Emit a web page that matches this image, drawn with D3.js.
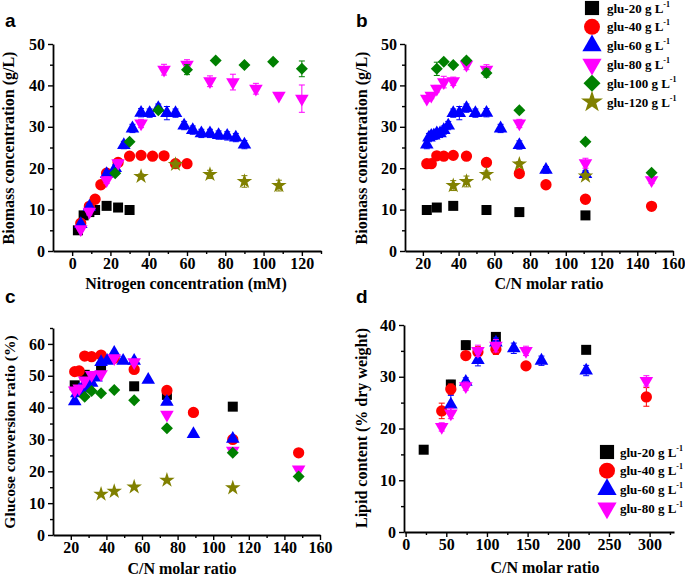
<!DOCTYPE html>
<html><head><meta charset="utf-8">
<script src="https://cdn.jsdelivr.net/npm/d3@7"></script>
<style>body{margin:0;background:#fff}svg{display:block}</style></head>
<body><svg id="c" width="685" height="577"></svg>
<script>
// ---------- series meta ----------
const seriesLabels = ["glu-20 g L","glu-40 g L","glu-60 g L","glu-80 g L","glu-100 g L","glu-120 g L"];
const seriesColors = ["#000000","#ff0000","#0000ff","#ff00ff","#008000","#808000"];
const seriesShapes = ["square","circle","triangle","triangleDown","diamond","star"];

// ---------- panel a : biomass vs nitrogen (mM) ----------
const aX20 = [3,6,9,12,18,24,30];
const aY20 = [5.0,8.6,9.4,9.9,10.9,10.5,9.9];
const aE20 = [0,0,0,0,0,0,0];
const aX40 = [4.5,9,12,15,18,24,30,36,42,48,54,60];
const aY40 = [6.7,10.8,12.5,16.0,18.8,21.4,22.9,23.1,22.9,23.0,21.1,21.1];
const aE40 = [0.5,0.5,0.4,0.4,0.5,0.5,0.4,0.4,0.4,0.4,0.5,0.4];
const aX60 = [4.5,9,18,22.5,27,31.5,36,40.5,45,49.5,54,58.5,63,67.5,72,76.5,81,85.5,90];
const aY60 = [6.5,10.7,18.6,20.0,25.6,29.6,33.4,33.3,34.5,33.3,33.3,30.3,29.2,28.4,28.4,28.0,27.8,27.4,25.7];
const aE60 = [0.5,0.8,0.8,0.8,0.9,1.0,1.0,1.0,1.0,1.6,1.0,1.0,1.0,1.0,1.0,1.0,1.0,1.0,1.0];
const aX80 = [4.5,9,18,24,36,48,60,72,84,96,108,120];
const aY80 = [5.3,9.5,17.1,21.2,30.8,43.8,45.0,41.0,40.8,39.2,37.5,36.8];
const aE80 = [0.5,0.8,0.8,0.8,1.0,1.3,1.2,1.3,1.9,1.3,0.5,3.3];
const aX100 = [22.5,30,45,60,75,90,105,120];
const aY100 = [18.8,26.4,34.0,43.8,46.0,44.9,45.7,44.0];
const aE100 = [0.5,0.5,0.5,1.2,0.5,0.5,0.5,1.9];
const aX120 = [36,54,72,90,108];
const aY120 = [18.0,20.9,18.5,16.8,15.8];
const aE120 = [0.6,0.8,1.0,1.4,1.3];

// ---------- panel b : biomass vs C/N ----------
const bX20 = [22.2,27.8,37,55.6,74,111];
const bY20 = [9.9,10.5,10.9,9.9,9.4,8.6];
const bE20 = [0,0,0,0,0,0];
const bX40 = [22.2,24.7,27.8,31.7,37,44.4,55.6,74,88.9,111,148];
const bY40 = [21.1,21.1,23.0,22.9,23.1,22.9,21.4,18.7,16.0,12.5,10.8];
const bE40 = [0.4,0.4,0.4,0.4,0.4,0.4,0.5,0.5,0.4,0.4,0.5];
const bX60 = [22.2,23.4,24.7,26.1,27.8,29.6,31.7,34.2,37,40.4,44.4,49.4,55.6,63.5,74,88.9,111];
const bY60 = [25.7,27.4,27.8,27.9,28.4,28.4,29.2,30.3,33.3,33.3,34.5,33.3,33.4,29.6,25.6,19.6,18.6];
const bE60 = [1.0,1.0,1.0,1.0,1.0,1.0,1.0,1.0,1.0,1.6,1.0,1.0,1.0,1.0,1.0,0.8,0.8];
const bX80 = [22.2,24.7,27.8,31.7,37,44.4,55.6,74,111,148];
const bY80 = [36.8,37.5,39.2,40.8,41.0,45.0,43.8,30.8,21.2,17.1];
const bE80 = [0.7,0.7,0.8,1.4,1.0,1.2,1.2,1.0,1.2,0.8];
const bX100 = [27.8,31.7,37,44.4,55.6,74,111,148];
const bY100 = [44.0,45.7,44.9,46.0,43.0,34.0,26.4,18.9];
const bE100 = [1.6,0.5,0.5,0.6,1.0,0.5,0.5,0.5];
const bX120 = [37,44.4,55.6,74,111];
const bY120 = [15.8,16.8,18.5,21.0,18.1];
const bE120 = [1.2,1.3,0.8,0.6,0.6];

// ---------- panel c : glucose conversion ratio vs C/N ----------
const cX20 = [22.2,27.8,37,55.6,74,111];
const cY20 = [47.0,50.3,52.6,46.7,44.0,40.3];
const cX40 = [22.2,24.7,27.8,31.7,37,44.4,55.6,74,88.9,111,148];
const cY40 = [51.3,51.5,56.2,56.0,56.5,55.5,52.0,45.4,38.5,30.0,25.8];
const cX60 = [22.2,23.4,24.7,26.1,27.8,29.6,31.7,34.2,37,40.4,44.4,49.4,55.6,63.5,74,88.9,111];
const cY60 = [42.0,44.5,45.5,46.0,46.5,47.0,47.8,49.4,54.3,54.7,57.2,54.7,54.7,48.7,41.8,31.7,30.2];
const cX80 = [22.2,24.7,27.8,31.7,37,44.4,55.6,74,111,148];
const cY80 = [45.4,46.0,48.5,50.3,50.5,55.5,54.3,37.8,26.5,20.6];
const cX100 = [27.8,31.7,37,44.4,55.6,74,111,148];
const cY100 = [43.4,45.2,44.5,45.5,42.3,33.5,25.8,18.4];
const cX120 = [37,44.4,55.6,74,111];
const cY120 = [12.8,13.7,15.1,17.2,14.8];

// ---------- panel d : lipid content vs C/N ----------
const dX20 = [22.2,55.6,74,111,222];
const dY20 = [15.9,28.5,36.1,37.7,35.2];
const dE20 = [0.3,0.8,0.8,0.5,0.4];
const dX40 = [44.4,55.6,74,88.9,111,148,296];
const dY40 = [23.4,27.6,34.1,34.8,35.3,32.1,26.1];
const dE40 = [1.5,1.0,0.8,1.0,1.0,0.5,1.8];
const dX60 = [55.6,74,88.9,111,133,167,222];
const dY60 = [24.6,29.0,33.2,36.6,35.5,33.1,31.2];
const dE60 = [1.8,0.8,1.1,0.9,1.0,0.9,1.0];
const dX80 = [44.4,55.6,74,88.9,111,148,296];
const dY80 = [20.3,22.9,28.2,35.0,36.0,35.0,29.2];
const dE80 = [0.8,1.0,0.8,1.1,1.2,0.9,1.0];

// ---------- tick labels ----------
const aXTicks = [0,20,40,60,80,100,120];
const cnTicks = [20,40,60,80,100,120,140,160];
const biomassTicks = [0,10,20,30,40,50];
const convTicks = [0,10,20,30,40,50,60];
const dXTicks = [0,50,100,150,200,250,300];
const lipidTicks = [0,10,20,30,40];

// ---------- drawing ----------
const svg = d3.select("#c");
const SERIF = "'Liberation Serif','Times New Roman',serif";
const SANS = "'Liberation Sans',Arial,sans-serif";
const markerSize = {square:100, circle:100, triangle:80, triangleDown:80, diamond:72, star:75};

function markerPath(shape, scale) {
  const s = markerSize[shape] * (scale || 1);
  switch (shape) {
    case "square": case "diamond": return d3.symbol(d3.symbolSquare, s)();
    case "circle": return d3.symbol(d3.symbolCircle, s)();
    case "triangle": case "triangleDown": return d3.symbol(d3.symbolTriangle, s)();
    case "star": return d3.symbol(d3.symbolStar, s)();
  }
}
function markerRot(shape) {
  return shape === "triangleDown" ? 180 : shape === "diamond" ? 45 : 0;
}
function mid(a){ const r=[]; for(let i=0;i<a.length-1;i++) r.push((a[i]+a[i+1])/2); return r; }

function drawPanel(p) {
  const g = svg.append("g");
  const x = d3.scaleLinear().domain(p.xDomain).range(p.xRange);
  const y = d3.scaleLinear().domain(p.yDomain).range(p.yRange);
  const xMinor = mid(p.xTicks).concat(p.xExtraMinor || []);
  const yMinor = mid(p.yTicks).concat(p.yExtraMinor || []);

  g.append("g").attr("transform", `translate(0,${p.yRange[0]})`)
    .call(d3.axisBottom(x).tickValues(xMinor).tickSize(3).tickFormat("").tickSizeOuter(0))
    .call(s => s.select(".domain").remove());
  g.append("g").attr("transform", `translate(${p.xRange[0]},0)`)
    .call(d3.axisLeft(y).tickValues(yMinor).tickSize(3).tickFormat("").tickSizeOuter(0))
    .call(s => s.select(".domain").remove());
  const xa = g.append("g").attr("transform", `translate(0,${p.yRange[0]})`)
    .call(d3.axisBottom(x).tickValues(p.xTicks).tickSize(5).tickPadding(2).tickSizeOuter(0));
  const ya = g.append("g").attr("transform", `translate(${p.xRange[0]},0)`)
    .call(d3.axisLeft(y).tickValues(p.yTicks).tickSize(5).tickPadding(3).tickSizeOuter(0));
  [xa, ya].forEach(a => {
    a.selectAll("text").attr("font-family", SERIF).attr("font-weight", "bold").attr("font-size", 16).attr("fill","#000");
  });
  g.selectAll(".domain").attr("stroke", "#000").attr("stroke-width", 1.8);
  g.selectAll(".tick line").attr("stroke", "#000").attr("stroke-width", 1.4);

  g.append("text").attr("x", p.xTitlePos[0]).attr("y", p.xTitlePos[1])
    .attr("text-anchor","middle").attr("font-family", SERIF).attr("font-weight","bold")
    .attr("font-size", 16).text(p.xTitle);
  g.append("text").attr("transform", `translate(${p.yTitlePos[0]},${p.yTitlePos[1]}) rotate(-90)`)
    .attr("text-anchor","middle").attr("font-family", SERIF).attr("font-weight","bold")
    .attr("font-size", p.yTitleSize || 16).text(p.yTitle);
  g.append("text").attr("x", p.letterPos[0]).attr("y", p.letterPos[1])
    .attr("font-family", SANS).attr("font-weight","bold").attr("font-size", 19).text(p.letter);

  p.series.forEach(s => {
    const col = seriesColors[s.i], shape = seriesShapes[s.i];
    const pts = s.x.map((v, k) => ({x: v, y: s.y[k], e: s.e ? s.e[k] : 0}));
    const sg = g.append("g");
    pts.filter(d => d.e > 0).forEach(d => {
      const y1 = y(d.y - d.e), y2 = y(d.y + d.e), cx = x(d.x);
      sg.append("line").attr("x1", cx).attr("x2", cx).attr("y1", y1).attr("y2", y2).attr("stroke", col).attr("stroke-width", 1);
      [y1, y2].forEach(yy => sg.append("line").attr("x1", cx-3).attr("x2", cx+3).attr("y1", yy).attr("y2", yy).attr("stroke", col).attr("stroke-width", 1));
    });
    sg.selectAll("path.m").data(pts).join("path").attr("class","m")
      .attr("d", markerPath(shape))
      .attr("transform", d => `translate(${x(d.x)},${y(d.y)}) rotate(${markerRot(shape)})`)
      .attr("fill", col);
  });

  if (p.legend) {
    const L = p.legend;
    L.items.forEach((i, k) => {
      const yy = L.y0 + k * L.dy;
      const shape = seriesShapes[i];
      g.append("path").attr("d", markerPath(shape, 2.0))
        .attr("transform", `translate(${L.mx},${yy}) rotate(${markerRot(shape)})`)
        .attr("fill", seriesColors[i]);
      const t = g.append("text").attr("x", L.tx).attr("y", yy + 4.5)
        .attr("font-family", SERIF).attr("font-weight","bold").attr("font-size", 13);
      t.append("tspan").text(seriesLabels[i]);
      t.append("tspan").attr("font-size", 8).attr("dy", -6).text("-1");
    });
  }
}

drawPanel({
  letter: "a", letterPos: [5, 27],
  xDomain: [-10, 130], xRange: [53, 321], yDomain: [0, 50], yRange: [251, 44],
  xTicks: aXTicks, yTicks: biomassTicks, xExtraMinor: [130], yExtraMinor: [],
  xTitle: "Nitrogen concentration (mM)", xTitlePos: [186, 289],
  yTitle: "Biomass concentration (g/L)", yTitlePos: [14, 148],
  series: [
    {i:0, x:aX20, y:aY20, e:aE20}, {i:1, x:aX40, y:aY40, e:aE40}, {i:2, x:aX60, y:aY60, e:aE60},
    {i:3, x:aX80, y:aY80, e:aE80}, {i:4, x:aX100, y:aY100, e:aE100}, {i:5, x:aX120, y:aY120, e:aE120}
  ]
});
drawPanel({
  letter: "b", letterPos: [356, 27],
  xDomain: [10, 160], xRange: [405, 673], yDomain: [0, 50], yRange: [251, 44],
  xTicks: cnTicks, yTicks: biomassTicks,
  xTitle: "C/N molar ratio", xTitlePos: [549, 289],
  yTitle: "Biomass concentration (g/L)", yTitlePos: [367, 148],
  series: [
    {i:0, x:bX20, y:bY20, e:bE20}, {i:1, x:bX40, y:bY40, e:bE40}, {i:2, x:bX60, y:bY60, e:bE60},
    {i:3, x:bX80, y:bY80, e:bE80}, {i:4, x:bX100, y:bY100, e:bE100}, {i:5, x:bX120, y:bY120, e:bE120}
  ],
  legend: {items:[0,1,2,3,4,5], mx: 592, tx: 607, y0: 8, dy: 18.8}
});
drawPanel({
  letter: "c", letterPos: [5, 303],
  xDomain: [10, 160], xRange: [53, 320], yDomain: [0, 65], yRange: [535, 328],
  xTicks: cnTicks, yTicks: convTicks, yExtraMinor: [65],
  xTitle: "C/N molar ratio", xTitlePos: [182, 574],
  yTitle: "Glucose conversion ratio (%)", yTitlePos: [15, 432], yTitleSize: 15.5,
  series: [
    {i:0, x:cX20, y:cY20}, {i:1, x:cX40, y:cY40}, {i:2, x:cX60, y:cY60},
    {i:3, x:cX80, y:cY80}, {i:4, x:cX100, y:cY100}, {i:5, x:cX120, y:cY120}
  ]
});
drawPanel({
  letter: "d", letterPos: [356, 303],
  xDomain: [-2, 330], xRange: [404, 674], yDomain: [0, 40], yRange: [532, 325],
  xTicks: dXTicks, yTicks: lipidTicks, xExtraMinor: [325],
  xTitle: "C/N molar ratio", xTitlePos: [545, 573],
  yTitle: "Lipid content (% dry weight)", yTitlePos: [367, 428],
  series: [
    {i:0, x:dX20, y:dY20, e:dE20}, {i:1, x:dX40, y:dY40, e:dE40},
    {i:2, x:dX60, y:dY60, e:dE60}, {i:3, x:dX80, y:dY80, e:dE80}
  ],
  legend: {items:[0,1,2,3], mx: 607, tx: 620, y0: 452, dy: 18.7}
});
</script>
</body></html>
